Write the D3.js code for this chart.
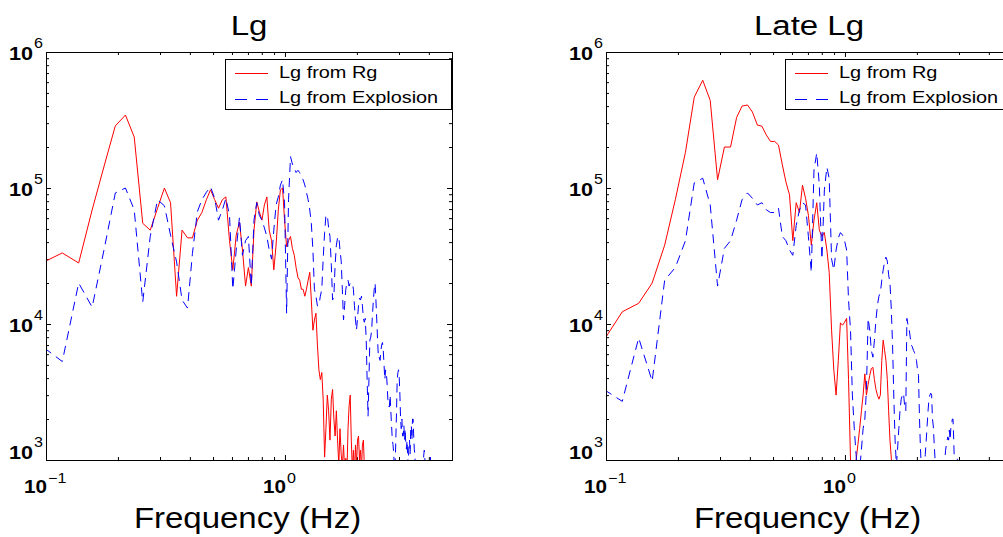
<!DOCTYPE html>
<html>
<head>
<meta charset="utf-8">
<title>Lg spectra</title>
<script src="https://cdn.jsdelivr.net/npm/d3@7"></script>
<style>
  body { margin: 0; background: #fff; }
  svg { display: block; font-family: "Liberation Sans", Arial, sans-serif; }
  .frame { fill: none; stroke: #000; stroke-width: 1; }
  .tick line { stroke: #000; }
  .ticklab { font-weight: bold; }
  .rg { fill: none; stroke: #f00; stroke-width: 1; }
  .exp { fill: none; stroke: #00f; stroke-width: 1; stroke-dasharray: 9,6; }
</style>
</head>
<body>
<svg width="1003" height="537"></svg>
<script>
// FFT bin frequencies (Hz) shared by all four spectra
var freqHz = [0.098,0.117,0.137,0.156,0.176,0.195,0.215,0.234,0.254,0.273,0.293,0.313,0.332,0.352,0.371,0.391,
  0.410,0.430,0.449,0.469,0.488,0.508,0.527,0.547,0.566,0.586,0.605,0.625,0.645,0.664,0.684,0.703,0.723,0.742,
  0.762,0.781,0.801,0.820,0.840,0.859,0.879,0.898,0.918,0.938,0.957,0.977,0.996,1.016,1.035,1.055,1.074,1.094,
  1.113,1.133,1.152,1.172,1.191,1.211,1.230,1.250,1.270,1.289,1.309,1.328,1.348,1.367,1.387,1.406,1.426,1.445,
  1.465,1.484,1.504,1.523,1.543,1.563,1.582,1.602,1.621,1.641,1.660,1.680,1.699,1.719,1.738,1.758,1.777,1.797,
  1.816,1.836,1.855,1.875,1.895,1.914,1.934,1.953,1.973,1.992,2.012,2.031,2.051,2.070,2.090,2.109,2.129,2.148,
  2.168,2.188,2.207,2.227,2.246,2.266,2.285,2.305,2.324,2.344,2.363,2.383,2.402,2.422,2.441,2.461,2.480,2.500,
  2.520,2.539,2.559,2.578,2.598,2.617,2.637,2.656,2.676,2.695,2.715,2.734,2.754,2.773,2.793,2.813,2.832,2.852,
  2.871,2.891,2.910,2.930,2.949,2.969,2.988,3.008,3.027,3.047,3.066,3.086,3.105,3.125,3.145,3.164,3.184,3.203,
  3.223,3.242,3.262,3.281,3.301,3.320,3.340,3.359,3.379,3.398,3.418,3.438,3.457,3.477,3.496,3.516,3.535,3.555,
  3.574,3.594,3.613,3.633,3.652,3.672,3.691,3.711,3.730,3.750,3.770,3.789,3.809,3.828,3.848,3.867,3.887,3.906,
  3.926,3.945,3.965,3.984,4.004,4.023,4.043,4.063,4.082,4.102];

// Lg panel
var lgRg = [28600,33300,28100,69000,150000,286000,344000,237000,55000,49000,71000,100000,78000,16000,49000,43000,
  43000,58000,66000,82000,97000,82000,71000,82000,86000,41000,25000,45000,56000,35000,19000,26000,19000,49000,
  79000,67000,58000,75000,86000,49000,41000,25000,38000,69000,97000,100000,58000,37000,41000,44000,36000,32000,
  26000,22000,21000,18000,18000,16000,18000,21000,24000,15000,9000,10700,12000,7000,4600,3900,4400,2800,
  1050,1700,3000,2300,1400,2800,3300,2000,1500,2300,1400,920,1700,1100,890,1290,840,1030,
  800,1700,2500,3000,1400,850,1180,790,1290,920,1400,1500,1000,1180,850,1290,1400,920,790,500];
var lgExp = [6700,5300,20000,13300,37000,92000,100000,69000,14500,44000,82000,74000,45000,28600,15000,13100,
  33000,67000,82000,93000,102000,84000,58000,69000,84000,63000,18000,35000,61000,32000,41000,44000,19000,58000,
  78000,63000,58000,51000,44000,35000,30000,49000,75000,86000,105000,115000,78000,12000,82000,170000,150000,140000,
  130000,135000,130000,120000,115000,105000,93000,82000,69000,55000,35000,18000,16000,13600,13700,16000,18000,30000,
  47000,63000,63000,51000,44000,27000,15000,16000,27000,38000,43000,44000,35000,29000,18000,10700,13700,18000,
  20000,21000,19000,20000,20000,20000,18000,13700,10700,9000,11000,13700,15500,15000,16000,13700,11000,10300,
  11000,7600,3900,2100,3900,7600,8000,9000,11700,15000,18000,20000,15000,10700,7600,5600,5700,5400,
  6400,7000,7300,6400,5000,3900,4600,4400,3600,2800,2500,2450,3000,2300,1800,1400,1300,1100,
  850,920,1400,2300,3900,4400,4600,4000,3000,2000,1700,2000,1500,1500,1800,1400,1700,1300,
  1200,1400,1100,920,1300,1400,1100,1700,1800,1400,2000,2000,1500,1200,1100,850,710,600,
  780,650,840,710,600,510,710,840,650,550,710,920,1090,1180,1030,780,600,510,
  600,710,840,1000,840,650,840,1050,840,600];

// Late Lg panel
var lateRg = [7600,12300,14200,20000,38000,82000,183000,465000,620000,440000,115000,200000,200000,330000,400000,408000,
  362000,290000,285000,245000,220000,220000,207000,148000,111000,89000,41000,78000,66000,105000,84000,63000,
  38000,58000,78000,49000,44000,47000,35000,24000,9000,4600,3000,5400,10200,9800,10300,11000,
  3900,1000,710,840,1000,1300,1700,2300,3000,4300,3000,3600,4200,4700,4800,3900,
  3300,3000,2800,3000,5400,7600,6400,5400,3900,2300,1400,1030,780,510];
var lateExp = [3300,2700,7900,3800,21000,26000,41000,109000,118000,75000,19000,36000,41000,58000,82000,92000,
  84000,75000,78000,69000,66000,66000,71000,44000,41000,35000,32000,53000,69000,78000,75000,44000,
  24000,136000,181000,105000,30000,97000,142000,118000,30000,25000,35000,43000,47000,45000,41000,35000,
  15000,9000,3000,1700,1100,710,840,1200,1700,2000,3300,11000,9000,6400,5700,7600,
  10700,13700,16000,17000,21000,25000,28600,31000,29000,23000,20000,12700,7000,2800,1400,920,
  1200,1700,2300,2800,3000,3100,2500,2300,11000,9800,9200,8000,7000,6800,6400,6200,
  5700,5400,4600,4200,2000,1200,840,600,710,840,1100,1400,1800,2300,2800,3000,
  3100,3000,2000,1750,1300,1000,780,600,510,550,650,710,600,510,550,710,
  840,1000,1180,1290,1400,1480,1400,1660,1400,1700,1800,2000,2000,1400,920,710,
  840,1030,1050,840,600];

var panelTitles = ["Lg", "Late Lg"];
var legendLabels = ["Lg from Rg", "Lg from Explosion"];
var xLabel = "Frequency (Hz)";
var xDomain = [0.1, 5];
var yDomain = [1e3, 1e6];
var xMajor = [0.1, 1], xMajorExp = ["\u22121", "0"];
var yMajor = [1e3, 1e4, 1e5, 1e6], yMajorExp = ["3", "4", "5", "6"];

var W = 406, H = 408, TOP = 52;
var panelLeft = [46, 606];
var series = [[lgRg, lgExp], [lateRg, lateExp]];

var svg = d3.select("svg");
svg.append("rect").attr("width", 1003).attr("height", 537).attr("fill", "#fff");

var x = d3.scaleLog().domain(xDomain).range([0, W]);
var y = d3.scaleLog().domain(yDomain).range([H, 0]);
var line = d3.line().x(function(d) { return x(d[0]); }).y(function(d) { return y(d[1]); });

function isMajor(v) {
  var l = Math.log10(v);
  return Math.abs(l - Math.round(l)) < 1e-6;
}

function stretched(sel, tx, ty, sx) {
  return sel.attr("transform", "translate(" + tx + "," + ty + ") scale(" + sx + ",1)");
}

panelLeft.forEach(function(left, p) {
  var g = svg.append("g").attr("transform", "translate(" + left + "," + TOP + ")");

  g.append("clipPath").attr("id", "clip" + p)
    .append("rect").attr("x", 0).attr("y", 0).attr("width", W + 1).attr("height", H + 1);

  // ticks on all four sides, pointing inwards
  var axes = [
    {a: d3.axisBottom(x), t: "translate(0," + H + ")", v: x.ticks(), sign: -1, attr: "y2"},
    {a: d3.axisTop(x), t: "translate(0,0)", v: x.ticks(), sign: 1, attr: "y2"},
    {a: d3.axisLeft(y), t: "translate(0,0)", v: y.ticks(), sign: 1, attr: "x2"},
    {a: d3.axisRight(y), t: "translate(" + W + ",0)", v: y.ticks(), sign: -1, attr: "x2"}
  ];
  axes.forEach(function(ax) {
    var ag = g.append("g").attr("transform", ax.t)
      .call(ax.a.tickValues(ax.v).tickFormat("").tickSizeOuter(0).tickSizeInner(-3));
    ag.select(".domain").remove();
    ag.selectAll(".tick line").attr(ax.attr, function(d) { return ax.sign * (isMajor(d) ? 5 : 3); });
  });

  // spectra
  var plot = g.append("g").attr("clip-path", "url(#clip" + p + ")");
  var rg = series[p][0], ex = series[p][1];
  plot.append("path").attr("class", "rg")
    .attr("d", line(rg.map(function(v, i) { return [freqHz[i], v]; })));
  plot.append("path").attr("class", "exp")
    .attr("d", line(ex.map(function(v, i) { return [freqHz[i], v]; })));

  g.append("rect").attr("class", "frame").attr("x", 0.5).attr("y", 0.5).attr("width", W).attr("height", H);

  // y tick labels: 10 with raised exponent
  yMajor.forEach(function(v, i) {
    var base = i === 0 ? y(v) - 1 : y(v) + 8;
    stretched(g.append("text"), -13, base, 1.2).attr("class", "ticklab").attr("text-anchor", "end")
      .attr("font-size", 18).text("10");
    stretched(g.append("text"), -12, base - 12, 1.15).attr("font-size", 14).text(yMajorExp[i]);
  });
  // x tick labels
  xMajor.forEach(function(v, i) {
    stretched(g.append("text"), x(v) + 1, 441, 1.15).attr("class", "ticklab").attr("text-anchor", "end")
      .attr("font-size", 18).text("10");
    stretched(g.append("text"), x(v) + 2, 431, 1.15).attr("font-size", 14).text(xMajorExp[i]);
  });

  stretched(g.append("text"), W / 2, -17, 1.18).attr("text-anchor", "middle")
    .attr("font-size", 28).text(panelTitles[p]);
  stretched(g.append("text"), W / 2 - 1.5, 476, 1.1).attr("text-anchor", "middle")
    .attr("font-size", 30).text(xLabel);

  // legend
  var lg = g.append("g").attr("transform", "translate(179,7)");
  lg.append("rect").attr("x", 0.5).attr("y", 0.5).attr("width", W - 180).attr("height", 50)
    .attr("fill", "#fff").attr("stroke", "#000");
  lg.append("line").attr("class", "rg").attr("x1", 10).attr("x2", 43).attr("y1", 14.5).attr("y2", 14.5);
  lg.append("line").attr("class", "exp").attr("x1", 10).attr("x2", 43).attr("y1", 40.5).attr("y2", 40.5)
    .style("stroke-dasharray", "12,9");
  legendLabels.forEach(function(t, i) {
    stretched(lg.append("text"), 54, 19 + 25 * i, 1.17).attr("font-size", 17).text(t);
  });
});
</script>
</body>
</html>
